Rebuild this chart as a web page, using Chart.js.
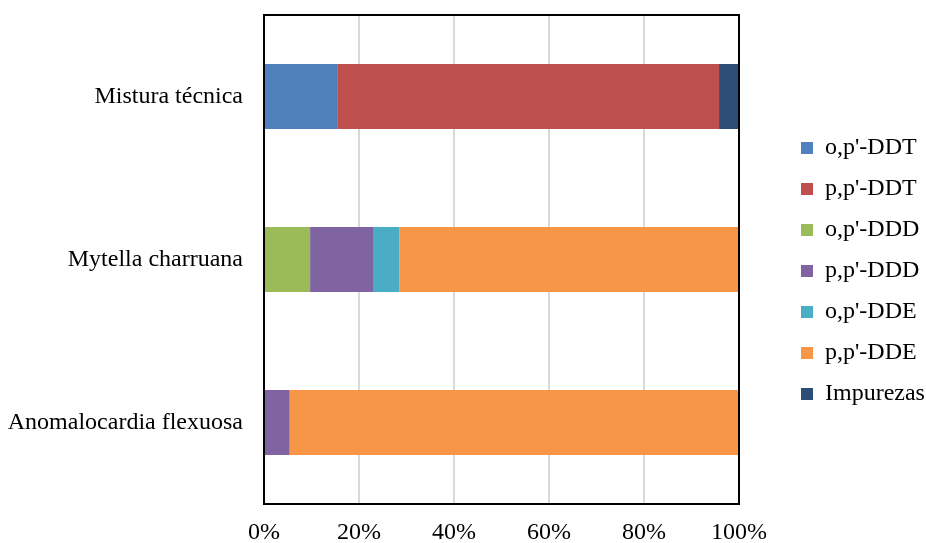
<!DOCTYPE html>
<html>
<head>
<meta charset="utf-8">
<script src="https://cdn.jsdelivr.net/npm/chart.js@4/dist/chart.umd.min.js"></script>
<style>
  html, body { margin: 0; padding: 0; background: #fff; }
  #wrap { width: 926px; height: 543px; }
</style>
</head>
<body>
<div id="wrap"><canvas id="chart"></canvas></div>
<script>
// categories (top to bottom)
const categorias = ['Mistura técnica', 'Mytella charruana', 'Anomalocardia flexuosa'];

// series names + colours
const series = ["o,p'-DDT", "p,p'-DDT", "o,p'-DDD", "p,p'-DDD", "o,p'-DDE", "p,p'-DDE", 'Impurezas'];
const cores = ['#4F81BD', '#C0504D', '#9BBB59', '#8064A2', '#4BACC6', '#F79646', '#2C4D75'];

// % values per serie (one per category)
const opDDT = [15.4, 0, 0];
const ppDDT = [80.4, 0, 0];
const opDDD = [0, 9.7, 0];
const ppDDD = [0, 13.4, 5.4];
const opDDE = [0, 5.4, 0];
const ppDDE = [0, 71.5, 94.6];
const impurezas = [4.2, 0, 0];

// x ticks
const xTicks = [0, 20, 40, 60, 80, 100];

const valores = [opDDT, ppDDT, opDDD, ppDDD, opDDE, ppDDE, impurezas];

const fonte = { family: '"Liberation Serif", "Times New Roman", serif', size: 24 };

// frame around plot area (Excel style)
const moldura = {
  id: 'moldura',
  afterDraw(chart) {
    const a = chart.chartArea, c = chart.ctx;
    c.save();
    c.strokeStyle = '#000';
    c.lineWidth = 2;
    c.strokeRect(a.left, a.top, a.right - a.left, a.bottom - a.top);
    c.restore();
  }
};

// legend: reserve space right of plot, then move items where they sit in the picture
const legendaPos = {
  id: 'legendaPos',
  beforeLayout(chart) {
    const lg = chart.legend;
    if (lg && !lg._fixo) {
      const fitOrig = lg.fit.bind(lg);
      lg.fit = function () { fitOrig(); this.width = 187; };
      lg._fixo = true;
    }
  },
  afterLayout(chart) {
    const lg = chart.legend;
    lg.left += 45; lg.right += 45;
    lg.top -= 8; lg.bottom -= 8;
  }
};

const ctx = document.getElementById('chart').getContext('2d');

const chart = new Chart(ctx, {
  type: 'bar',
  data: {
    labels: categorias,
    datasets: series.map((nome, i) => ({
      label: nome,
      data: valores[i],
      backgroundColor: cores[i],
      borderWidth: 0,
      categoryPercentage: 1,
      barPercentage: 0.4
    }))
  },
  options: {
    indexAxis: 'y',
    responsive: true,
    maintainAspectRatio: false,
    animation: false,
    layout: { padding: { top: 15, left: 0, right: 0, bottom: 0 } },
    scales: {
      x: {
        stacked: true,
        min: 0,
        max: 100,
        afterBuildTicks(axis) { axis.ticks = xTicks.map(v => ({ value: v })); },
        afterFit(axis) { axis.height = 39; axis.paddingLeft = 0; axis.paddingRight = 0; },
        grid: { color: '#d9d9d9', lineWidth: 2, drawTicks: false },
        border: { display: false },
        ticks: {
          color: '#000',
          font: fonte,
          padding: 14,
          callback: v => v + '%'
        }
      },
      y: {
        stacked: true,
        afterFit(axis) { axis.width = 264; axis.paddingTop = 0; axis.paddingBottom = 0; },
        grid: { display: false, drawTicks: false },
        border: { display: false },
        ticks: { color: '#000', font: fonte, padding: 21 }
      }
    },
    plugins: {
      legend: {
        position: 'right',
        align: 'center',
        labels: {
          color: '#000',
          font: fonte,
          boxWidth: 12,
          boxHeight: 12,
          padding: 17
        }
      },
      tooltip: { enabled: false }
    }
  },
  plugins: [moldura, legendaPos]
});
</script>
</body>
</html>
